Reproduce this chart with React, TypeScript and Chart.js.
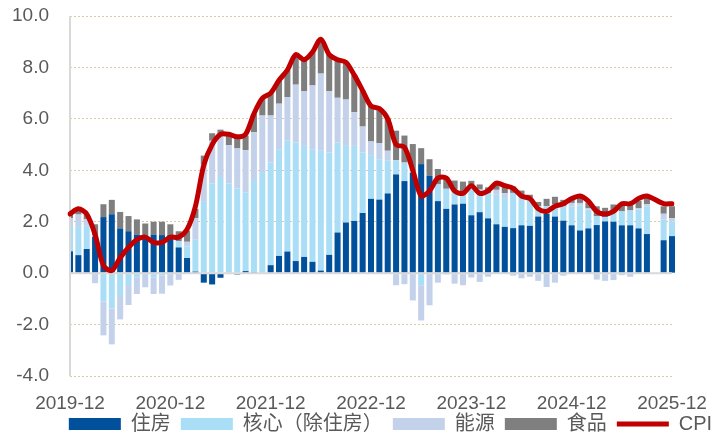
import { useEffect, useRef } from "react";
import { Chart, registerables } from "chart.js";

Chart.register(...registerables);

// Monthly categories, 2019-12 .. 2025-12
const months: string[] = [
  "2019-12",
  "2020-01", "2020-02", "2020-03", "2020-04", "2020-05", "2020-06", "2020-07", "2020-08", "2020-09", "2020-10", "2020-11", "2020-12",
  "2021-01", "2021-02", "2021-03", "2021-04", "2021-05", "2021-06", "2021-07", "2021-08", "2021-09", "2021-10", "2021-11", "2021-12",
  "2022-01", "2022-02", "2022-03", "2022-04", "2022-05", "2022-06", "2022-07", "2022-08", "2022-09", "2022-10", "2022-11", "2022-12",
  "2023-01", "2023-02", "2023-03", "2023-04", "2023-05", "2023-06", "2023-07", "2023-08", "2023-09", "2023-10", "2023-11", "2023-12",
  "2024-01", "2024-02", "2024-03", "2024-04", "2024-05", "2024-06", "2024-07", "2024-08", "2024-09", "2024-10", "2024-11", "2024-12",
  "2025-01", "2025-02", "2025-03", "2025-04", "2025-05", "2025-06", "2025-07", "2025-08", "2025-09", "2025-10", "2025-11", "2025-12",
];

const xTickLabels: string[] = ["2019-12", "2020-12", "2021-12", "2022-12", "2023-12", "2024-12", "2025-12"];

const shelter: (number | null)[] = [
  0.85,
  0.70, 0.94, 1.42, 2.18, 2.29, 1.74, 1.63, 1.50, 1.46, 1.50, 1.48, 1.50,
  1.00, 0.59, 0.06, -0.37, -0.44, -0.18, -0.02, -0.05, 0.08, 0.04, 0.00, 0.31,
  0.67, 0.84, 0.47, 0.63, 0.44, 0.10, 0.71, 1.58, 1.97, 2.03, 2.34, 2.89,
  2.86, 3.10, 3.84, 3.58, 3.91, 4.24, 3.78, 2.80, 2.50, 2.67, 2.70, 2.25,
  2.37, 2.13, 1.90, 1.80, 1.75, 1.86, 1.84, 2.20, 2.31, 2.20, 2.04, 1.86,
  1.66, 1.74, 1.87, 2.01, 2.00, 1.86, 1.86, 1.74, 1.52, null, 1.28, 1.44,
];

const coreExShelter: (number | null)[] = [
  0.98,
  1.13, 0.90, 0.05, -1.10, -1.37, -0.89, -0.46, -0.16, 0.00, -0.16, -0.10, 0.00,
  0.25, 0.45, 1.24, 2.77, 3.48, 3.74, 3.49, 3.29, 3.06, 3.58, 3.93, 3.99,
  4.15, 4.31, 4.61, 4.32, 4.38, 4.66, 3.98, 3.50, 2.98, 2.92, 2.35, 1.70,
  1.57, 1.27, 0.55, 0.72, 0.05, -0.47, 0.00, 0.65, 0.78, 0.58, 0.36, 1.14,
  0.88, 0.99, 1.15, 1.12, 1.37, 1.20, 1.09, 0.40, 0.29, 0.47, 0.56, 0.74,
  0.97, 0.73, 0.34, 0.17, 0.37, 0.54, 0.58, 0.73, 1.08, null, 0.80, 0.57,
];

const energy: (number | null)[] = [
  0.30,
  0.45, 0.25, -0.39, -1.32, -1.40, -0.91, -0.78, -0.65, -0.55, -0.65, -0.70, -0.48,
  -0.26, 0.18, 0.84, 1.47, 1.67, 1.67, 1.49, 1.56, 1.64, 1.86, 2.20, 1.83,
  1.77, 1.70, 2.25, 2.12, 2.48, 3.00, 2.38, 1.74, 1.80, 1.31, 1.01, 0.53,
  0.63, 0.39, -0.47, -0.43, -1.06, -1.37, -1.25, -0.37, -0.05, -0.41, -0.47, -0.17,
  -0.34, -0.14, 0.19, 0.19, -0.10, -0.20, -0.14, -0.30, -0.54, -0.37, -0.10, 0.13,
  0.10, 0.05, -0.25, -0.30, -0.27, -0.08, -0.14, 0.05, 0.08, null, 0.23, 0.13,
];

const food: (number | null)[] = [
  0.17,
  0.20, 0.20, 0.43, 0.50, 0.56, 0.64, 0.59, 0.59, 0.47, 0.50, 0.52, 0.40,
  0.38, 0.43, 0.36, 0.33, 0.29, 0.17, 0.44, 0.50, 0.57, 0.70, 0.65, 0.87,
  0.91, 1.05, 1.17, 1.23, 1.30, 1.34, 1.43, 1.48, 1.45, 1.44, 1.40, 1.38,
  1.34, 1.24, 1.15, 1.05, 1.06, 0.62, 0.65, 0.60, 0.45, 0.35, 0.50, 0.20,
  0.20, 0.22, 0.21, 0.23, 0.25, 0.15, 0.12, 0.17, 0.29, 0.30, 0.25, 0.15,
  0.26, 0.23, 0.39, 0.36, 0.30, 0.30, 0.30, 0.30, 0.30, null, 0.29, 0.46,
];

const cpi: (number | null)[] = [
  2.3,
  2.5, 2.3, 1.5, 0.3, 0.1, 0.6, 1.0, 1.3, 1.4, 1.2, 1.2, 1.4,
  1.4, 1.7, 2.6, 4.2, 5.0, 5.4, 5.4, 5.3, 5.4, 6.2, 6.8, 7.0,
  7.5, 7.9, 8.5, 8.3, 8.6, 9.1, 8.5, 8.3, 8.2, 7.7, 7.1, 6.5,
  6.4, 6.0, 5.0, 4.9, 4.0, 3.0, 3.2, 3.7, 3.7, 3.2, 3.1, 3.4,
  3.1, 3.2, 3.5, 3.4, 3.3, 3.0, 2.9, 2.5, 2.4, 2.6, 2.7, 2.9,
  3.0, 2.8, 2.4, 2.3, 2.4, 2.7, 2.7, 2.9, 3.0, null, 2.7, 2.7,
];

const FONT = "'Liberation Sans', 'Noto Sans CJK SC', sans-serif";
const TEXT = "#595959";
const GRID = "#d8c9ab";
const AXIS = "#d9d9d9";

const axisLines = {
  id: "axisLines",
  afterLayout(chart: any) {
    const lg = chart.legend;
    if (lg) {
      lg.left += 29;
      lg.right += 29;
      lg.top += 8;
      lg.bottom += 8;
    }
    const xs = chart.scales.x;
    if (xs) {
      xs.bottom = xs.top + 45;
      xs.height = 45;
    }
  },
  beforeDatasetDraw(chart: any, args: any) {
    if (args.index !== 4) return;
    const { ctx, chartArea } = chart;
    const y0 = chart.scales.y.getPixelForValue(0);
    ctx.save();
    ctx.strokeStyle = AXIS;
    ctx.lineWidth = 2;
    ctx.beginPath();
    ctx.moveTo(chartArea.left, chartArea.top);
    ctx.lineTo(chartArea.left, chartArea.bottom);
    ctx.moveTo(chartArea.left, y0);
    ctx.lineTo(chartArea.right, y0);
    ctx.stroke();
    ctx.restore();
  },
};

export default function App() {
  const ref = useRef<HTMLCanvasElement>(null);

  useEffect(() => {
    const barCommon = {
      type: "bar" as const,
      order: 1,
      pointStyle: "rect",
      borderWidth: 0,
      barPercentage: 0.72,
      categoryPercentage: 1,
      clip: { left: 0, top: false, right: false, bottom: false } as any,
    };
    const chart = new Chart(ref.current!, {
      type: "bar",
      data: {
        labels: months,
        datasets: [
          { ...barCommon, label: "住房", data: shelter, backgroundColor: "#00509b" },
          { ...barCommon, label: "核心（除住房）", data: coreExShelter, backgroundColor: "#aadef6" },
          { ...barCommon, label: "能源", data: energy, backgroundColor: "#c3d2ea" },
          { ...barCommon, label: "食品", data: food, backgroundColor: "#7f7f7f" },
          {
            type: "line" as const,
            label: "CPI",
            data: cpi,
            order: 0,
            stack: "cpi",
            borderColor: "#c00000",
            backgroundColor: "#c00000",
            borderWidth: 5,
            pointRadius: 0,
            pointStyle: "line",
            tension: 0.3,
            spanGaps: true,
            borderCapStyle: "round",
            borderJoinStyle: "round",
          } as any,
        ],
      },
      options: {
        animation: false,
        responsive: false,
        devicePixelRatio: 1,
        layout: { padding: { left: 0, right: 0, top: 16, bottom: 0 } },
        plugins: {
          legend: {
            position: "bottom",
            labels: {
              usePointStyle: true,
              pointStyleWidth: 52,
              boxHeight: 12,
              padding: 10,
              color: TEXT,
              font: { family: FONT, size: 20 },
              sort: (a: any, b: any) => a.datasetIndex - b.datasetIndex,
            },
          },
          tooltip: { enabled: false },
        },
        scales: {
          x: {
            type: "category",
            stacked: true,
            offset: false,
            grid: { display: false, drawTicks: false },
            border: { display: false },
            ticks: {
              autoSkip: false,
              maxRotation: 0,
              minRotation: 0,
              padding: 16,
              color: TEXT,
              font: { family: FONT, size: 19 },
              callback: (_v: any, i: number) => (xTickLabels.includes(months[i]) ? months[i] : ""),
            },
            afterFit: (s: any) => {
              s.height = 20;
            },
          },
          y: {
            stacked: true,
            min: -4,
            max: 10,
            ticks: {
              stepSize: 2,
              padding: 21,
              color: TEXT,
              font: { family: FONT, size: 19 },
              callback: (v: any) => Number(v).toFixed(1),
            },
            grid: {
              drawTicks: false,
              lineWidth: 1,
              color: (c: any) => (c.tick && c.tick.value === 0 ? "rgba(0,0,0,0)" : GRID),
            },
            border: { display: false, dash: [2, 2] },
            afterFit: (s: any) => {
              s.width = 70;
              s.paddingTop = 0;
              s.paddingBottom = 0;
            },
          },
          y2: {
            position: "right",
            grid: { drawOnChartArea: false, drawTicks: false },
            border: { display: false },
            ticks: { display: false },
            afterFit: (s: any) => {
              s.width = 51;
            },
          },
        },
      } as any,
      plugins: [axisLines],
    });
    return () => chart.destroy();
  }, []);

  return (
    <div style={{ position: "absolute", left: 0, top: 0, width: 723, height: 436, background: "#fff" }}>
      <canvas ref={ref} width={723} height={436} style={{ display: "block", width: 723, height: 436 }} />
    </div>
  );
}
